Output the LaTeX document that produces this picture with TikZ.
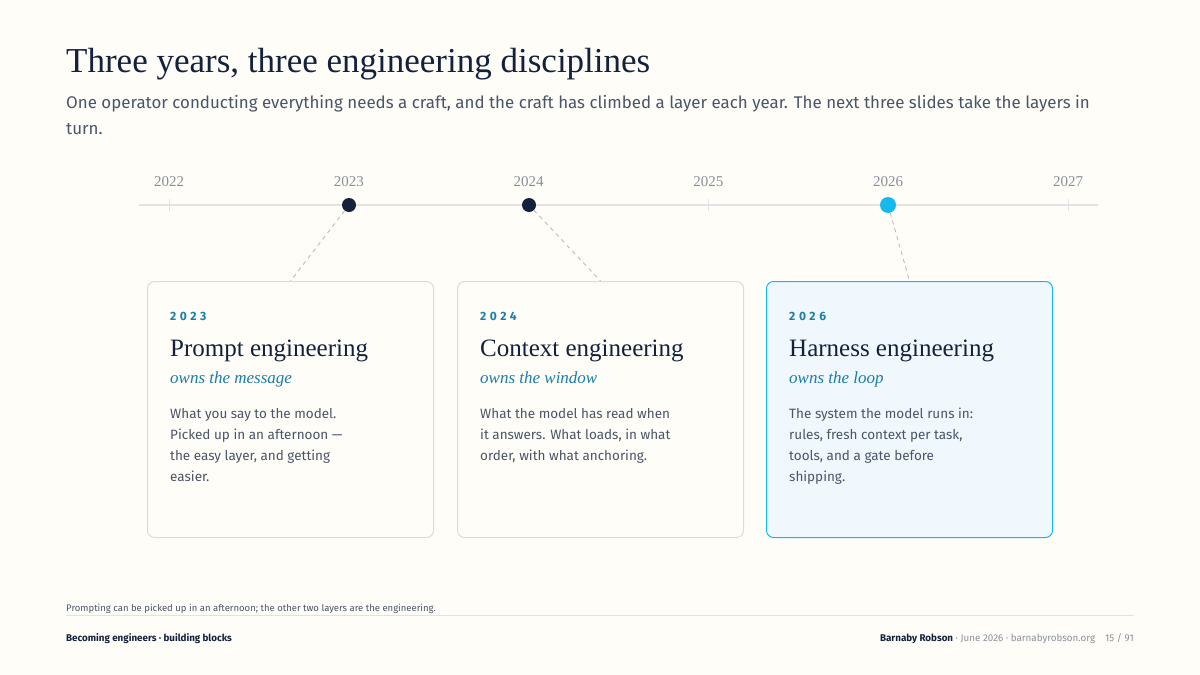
\documentclass[tikz,border=0pt]{standalone}
\usepackage{fontspec}
\setmainfont{Liberation Serif}
\setsansfont{Fira Sans}
\newfontfamily\bodyfont{Fira Sans}
\usetikzlibrary{positioning, calc}
\definecolor{mbg}{HTML}{FEFDF7}
\definecolor{mnavy}{HTML}{13213C}
\definecolor{mslate}{HTML}{4A5568}
\definecolor{mmuted}{HTML}{8A9099}
\definecolor{mrule}{HTML}{E2E2E2}
\definecolor{mborder}{HTML}{DCDCDC}
\definecolor{mteal}{HTML}{1B7DA8}
\definecolor{mcyan}{HTML}{14B9F0}
\definecolor{mlightblue}{HTML}{F0F8FD}
\tikzset{
  yearlbl/.style={font=\fontsize{15}{18}\selectfont, text=mmuted, anchor=base},
  yeartick/.style={draw=mrule, line width=1pt},
  pastdot/.style={circle, fill=mnavy, inner sep=0pt, minimum size=14pt},
  nowdot/.style={circle, fill=mcyan, inner sep=0pt, minimum size=16pt},
  linkline/.style={draw=mmuted!60, dash pattern=on 4pt off 4pt, line width=0.9pt},
  card/.style={draw=mborder, fill=mbg, rounded corners=7pt, line width=1pt,
               minimum width=286pt, minimum height=256pt, anchor=north west},
  hotcard/.style={card, draw=mcyan, fill=mlightblue},
  cardyear/.style={font=\bodyfont\bfseries\addfontfeatures{LetterSpace=30}\fontsize{12}{14}\selectfont,
                   text=mteal, anchor=base west, inner sep=0pt},
  cardtitle/.style={font=\fontsize{25}{30}\selectfont, text=mnavy, anchor=base west, inner sep=0pt},
  cardsub/.style={font=\itshape\fontsize{17}{20}\selectfont, text=mteal, anchor=base west, inner sep=0pt},
  cardbody/.style={font=\bodyfont\fontsize{13.5}{21.2}\selectfont, text=mslate, align=left,
                   anchor=base west, inner sep=0pt},
}
\begin{document}
\begin{tikzpicture}[x=1pt, y=-1pt]
  \fill[mbg] (0,0) rectangle (1200,675);
  \useasboundingbox (0,0) rectangle (1200,675);

  %% -- heading --
  \node[font=\fontsize{35}{40}\selectfont, text=mnavy, anchor=base west, inner sep=0pt]
    (title) at (66,72) {Three years, three engineering disciplines};
  % base of a two-line node is its last line
  \node[font=\bodyfont\fontsize{16.9}{26.5}\selectfont, text=mslate, anchor=base west, inner sep=0pt, align=left]
    (lede) at (66,134.5) {One operator conducting everything needs a craft, and the craft has climbed a layer each year. The next three slides take the layers in\\turn.};

  %% -- timeline --
  \draw[mrule, line width=1.2pt] (139,205) -- (1098,205);
  \foreach \yr [count=\i from 0] in {2022,...,2027} {
    \node[yearlbl] (y\yr) at (169+179.8*\i,186.5) {\yr};
  }
  \foreach \tx in {169, 708.4, 1068} {
    \draw[yeartick] (\tx,199) -- (\tx,211);
  }
  \node[pastdot] (d2023) at (349,205) {};
  \node[pastdot] (d2024) at (529,205) {};
  \node[nowdot]  (d2026) at (888,205) {};

  %% -- cards --
  \node[card]    (c2023) at (147,281) {};
  \node[card]    (c2024) at (457,281) {};
  \node[hotcard] (c2026) at (766,281) {};

  \draw[linkline] (d2023) -- (c2023.north);
  \draw[linkline] (d2024) -- (c2024.north);
  \draw[linkline] (d2026) -- (c2026.north);

  % card 1
  \node[cardyear]  (yr1) at (170,320) {2023};
  \node[cardtitle] (tt1) at (170,356) {Prompt engineering};
  \node[cardsub]   (sb1) at (170,383) {owns the message};
  \node[cardbody]  (bd1) at (170,481.6) {What you say to the model.\\Picked up in an afternoon —\\the easy layer, and getting\\easier.};

  % card 2
  \node[cardyear]  (yr2) at (480,320) {2024};
  \node[cardtitle] (tt2) at (480,356) {Context engineering};
  \node[cardsub]   (sb2) at (480,383) {owns the window};
  \node[cardbody]  (bd2) at (480,460.4) {What the model has read when\\it answers. What loads, in what\\order, with what anchoring.};

  % card 3
  \node[cardyear]  (yr3) at (789,320) {2026};
  \node[cardtitle] (tt3) at (789,356) {Harness engineering};
  \node[cardsub]   (sb3) at (789,383) {owns the loop};
  \node[cardbody]  (bd3) at (789,481.6) {The system the model runs in:\\rules, fresh context per task,\\tools, and a gate before\\shipping.};

  %% -- footer --
  \node[font=\bodyfont\fontsize{9.5}{12}\selectfont, text=mslate, anchor=base west, inner sep=0pt]
    (note) at (66,611) {Prompting can be picked up in an afternoon; the other two layers are the engineering.};
  \draw[mrule, line width=0.8pt] (66,615.5) -- (1134,615.5);
  \node[font=\bodyfont\bfseries\fontsize{9.8}{12}\selectfont, text=mnavy, anchor=base west, inner sep=0pt]
    (deck) at (66,641) {Becoming engineers · building blocks};
  \node[font=\bodyfont\fontsize{9.8}{12}\selectfont, text=mmuted, anchor=base east, inner sep=0pt]
    (byline) at (1134,641) {\textcolor{mnavy}{\bfseries Barnaby Robson} · June 2026 · barnabyrobson.org\hspace{10pt}15 / 91};
\end{tikzpicture}
\end{document}
